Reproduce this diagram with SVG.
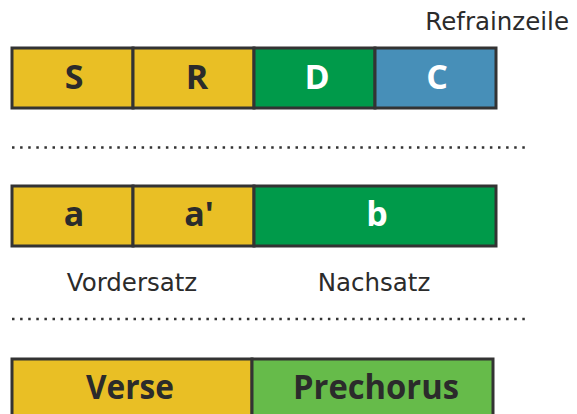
<svg xmlns="http://www.w3.org/2000/svg" width="577" height="414" viewBox="0 0 577 414">
<style>
.box{stroke:#333;stroke-width:3}
.y{fill:#E9BF25}.g{fill:#009A4A}.b{fill:#478FB8}.lg{fill:#66BB4A}
.t{font-family:"Open Sans","Noto Sans",sans-serif;font-weight:bold;font-size:34px;text-anchor:middle}
.dk{fill:#2b2b2b}.wh{fill:#fff}
.lbl{font-family:"DejaVu Sans","Noto Sans",sans-serif;font-size:24.5px;fill:#2b2b2b}
.dot{stroke:#333;stroke-width:2.5;stroke-dasharray:2.5 5.6;fill:none}
</style>
<rect width="577" height="414" fill="#fff"/>
<text class="lbl" x="569" y="29.5" text-anchor="end">Refrainzeile</text>
<g id="row1">
<g id="S"><rect class="box y" x="12" y="48" width="121" height="60"/><text class="t dk" x="74" y="89">S</text></g>
<g id="R"><rect class="box y" x="133" y="48" width="121" height="60"/><text class="t dk" x="197" y="89">R</text></g>
<g id="D"><rect class="box g" x="254" y="48" width="121" height="60"/><text class="t wh" x="317" y="89">D</text></g>
<g id="C"><rect class="box b" x="375" y="48" width="121" height="60"/><text class="t wh" x="437" y="89">C</text></g>
</g>
<g id="connectors">
<line class="dot" x1="12" y1="147.5" x2="530" y2="147.5"/>
<line class="dot" x1="12" y1="319" x2="530" y2="319"/>
</g>
<g id="row2">
<g id="a"><rect class="box y" x="12" y="186" width="121" height="60"/><text class="t dk" x="74" y="226">a</text></g>
<g id="a2"><rect class="box y" x="133" y="186" width="121" height="60"/><text class="t dk" x="199" y="226">a'</text></g>
<g id="b"><rect class="box g" x="254" y="186" width="242" height="60"/><text class="t wh" x="377" y="226">b</text></g>
</g>
<text class="lbl" x="132" y="290.5" text-anchor="middle">Vordersatz</text>
<text class="lbl" x="374" y="290.5" text-anchor="middle">Nachsatz</text>
<g id="row3">
<g id="Verse"><rect class="box y" x="12" y="359" width="240" height="70"/><text class="t dk" x="130" y="399" textLength="88" lengthAdjust="spacingAndGlyphs">Verse</text></g>
<g id="Prechorus"><rect class="box lg" x="252" y="359" width="241" height="70"/><text class="t dk" x="376" y="399" textLength="166" lengthAdjust="spacingAndGlyphs">Prechorus</text></g>
</g>
</svg>
